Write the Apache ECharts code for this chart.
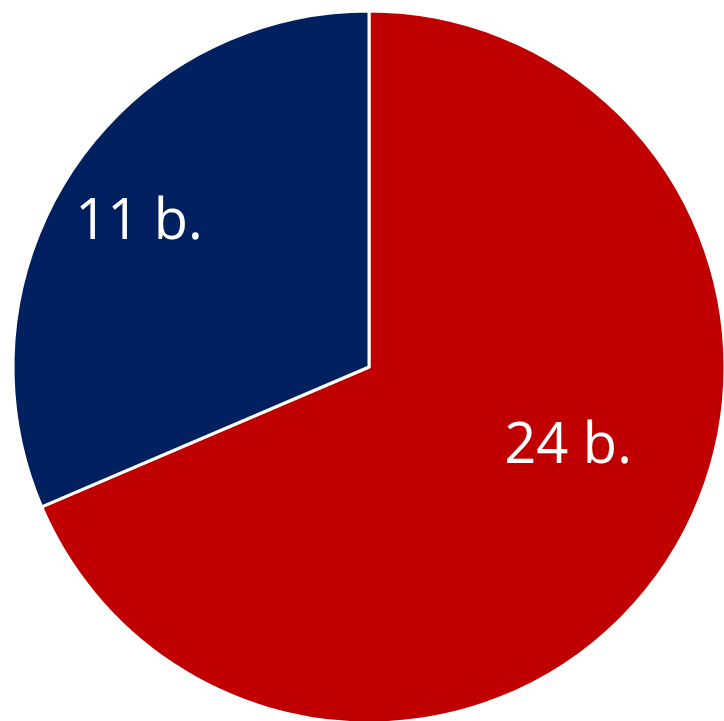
<!DOCTYPE html>
<html><head><meta charset="utf-8">
<script src="https://cdn.jsdelivr.net/npm/echarts@6/dist/echarts.min.js"></script>
<style>html,body{margin:0;padding:0;background:#fff}#c{width:724px;height:721px}</style>
</head><body><div id="c"></div>
<script>
const categories = ['A', 'B'];
const values = [24, 11];
const labels = ['24 b.', '11 b.'];
const colors = ['#C00000', '#002060'];
const offsets = [[48, -20], [-79, -44]];

const chart = echarts.init(document.getElementById('c'), null, {renderer: 'canvas'});
chart.setOption({
  animation: false,
  series: [{
    type: 'pie',
    center: [369, 367],
    radius: [0, 356],
    startAngle: 90,
    clockwise: true,
    silent: true,
    itemStyle: {borderColor: '#fff', borderWidth: 3},
    label: {
      show: true, position: 'inside', color: '#fff',
      fontFamily: 'Open Sans', fontSize: 56,
      formatter: p => labels[p.dataIndex]
    },
    labelLine: {show: false},
    data: categories.map((c, i) => ({
      name: c, value: values[i],
      itemStyle: {color: colors[i]},
      label: {offset: offsets[i]}
    }))
  }]
});
</script></body></html>
